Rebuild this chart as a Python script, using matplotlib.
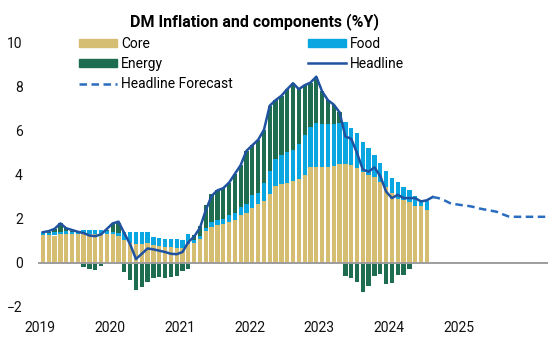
import matplotlib
matplotlib.use("Agg")
import matplotlib.pyplot as plt
from matplotlib.lines import Line2D
from matplotlib.patches import Patch
import numpy as np

plt.rcParams["font.family"] = ["Roboto", "DejaVu Sans"]

# Monthly %Y contributions, Jan 2019 onwards
core = [
    1.27, 1.27, 1.25, 1.30, 1.30, 1.30, 1.30, 1.32, 1.32, 1.30, 1.30, 1.32,
    1.30, 1.22, 1.05, 0.90, 0.88, 0.88, 0.90, 0.83, 0.76, 0.74, 0.72, 0.70,
    0.70, 0.88, 0.92, 1.10, 1.45, 1.65, 1.73, 1.76, 1.88, 1.95, 2.18, 2.26,
    2.48, 2.70, 2.80, 3.15, 3.50, 3.58, 3.62, 3.74, 3.80, 4.00, 4.35, 4.38,
    4.35, 4.38, 4.42, 4.50, 4.52, 4.45, 4.30, 4.15, 4.00, 3.90, 3.70, 3.47,
    3.17, 2.90, 2.86, 2.79, 2.60, 2.58, 2.42,
]
food = [
    0.12, 0.10, 0.15, 0.12, 0.15, 0.12, 0.12, 0.18, 0.20, 0.22, 0.20, 0.15,
    0.12, 0.15, 0.35, 0.50, 0.52, 0.52, 0.50, 0.37, 0.38, 0.36, 0.36, 0.38,
    0.36, 0.42, 0.12, 0.12, 0.15, 0.20, 0.22, 0.25, 0.30, 0.32, 0.38, 0.42,
    0.60, 0.50, 0.83, 1.05, 1.21, 1.32, 1.41, 1.40, 1.61, 1.82, 1.85, 1.97,
    1.95, 1.94, 1.92, 1.85, 1.90, 1.67, 1.60, 1.36, 1.24, 1.01, 0.83, 0.71,
    0.68, 0.80, 0.61, 0.53, 0.43, 0.27, 0.38,
]
energy = [
    0.00, 0.05, 0.15, 0.38, 0.12, 0.03, 0.00, -0.20, -0.27, -0.30, -0.15, 0.05,
    0.38, 0.45, -0.40, -0.77, -1.23, -1.08, -0.85, -0.68, -0.64, -0.68, -0.64, -0.60,
    -0.35, -0.25, 0.23, 0.48, 1.05, 1.27, 1.36, 1.39, 1.47, 1.78, 1.89, 2.42,
    2.27, 2.40, 2.42, 2.95, 2.69, 2.70, 2.87, 3.03, 2.49, 2.26, 2.00, 2.12,
    1.50, 1.08, 0.86, 0.50, -0.60, -0.70, -0.85, -1.30, -1.05, -0.60, -0.50, -0.95,
    -0.90, -0.55, -0.55, -0.25, 0.00, 0.00, 0.00,
]
headline = [
    1.40, 1.45, 1.55, 1.80, 1.58, 1.50, 1.42, 1.36, 1.25, 1.22, 1.30, 1.55,
    1.80, 1.88, 1.35, 0.85, 0.18, 0.42, 0.66, 0.62, 0.56, 0.50, 0.42, 0.40,
    0.50, 0.95, 1.20, 1.60, 2.40, 3.05, 3.30, 3.40, 3.65, 4.05, 4.45, 5.10,
    5.35, 5.60, 6.05, 7.15, 7.40, 7.60, 7.90, 8.17, 7.90, 8.08, 8.20, 8.47,
    7.80, 7.40, 7.20, 6.85, 5.75, 5.65, 5.00, 4.25, 4.15, 4.35, 3.95, 3.25,
    2.95, 3.10, 2.95, 2.95, 2.95, 2.80, 2.85, 3.00,
]
# Forecast path, starting from the last headline print (Aug 2024)
forecast = [
    3.00, 2.95, 2.85, 2.72, 2.67, 2.63, 2.60, 2.55, 2.48, 2.43, 2.38, 2.33,
    2.22, 2.12, 2.10, 2.10, 2.10, 2.10, 2.10, 2.10, 2.10, 2.10,
]
years = [2019, 2020, 2021, 2022, 2023, 2024, 2025]

C_CORE = "#d5bd72"
C_FOOD = "#0aa6e2"
C_ENERGY = "#1f6d50"
C_HEAD = "#1f52a0"
C_FC = "#2a6cbf"

core = np.array(core)
food = np.array(food)
energy = np.array(energy)

# month centres in fractional years
x_bar = 2019 + (np.arange(len(core)) + 0.5) / 12
x_head = 2019 + (np.arange(len(headline)) + 0.5) / 12
x_fc = 2019 + (np.arange(len(forecast)) + len(headline) - 1 + 0.5) / 12

fig = plt.figure(figsize=(5.48, 3.38), dpi=100)
ax = fig.add_axes([38 / 548, 1 - 311.4 / 338, 510 / 548, (311.4 - 38.6) / 338])

w = 0.74 / 12
ax.bar(x_bar, core, width=w, color=C_CORE, linewidth=0, zorder=2)
ax.bar(x_bar, food, width=w, bottom=core, color=C_FOOD, linewidth=0, zorder=2)
e_bottom = np.where(energy > 0, core + food, 0)
ax.bar(x_bar, energy, width=w, bottom=e_bottom, color=C_ENERGY, linewidth=0, zorder=2)

ax.axhline(0, color="#9d9d9d", lw=1.4, zorder=3)
ax.plot(x_head, headline, color=C_HEAD, lw=1.8, zorder=4, solid_joinstyle="round")
ax.plot(x_fc, forecast, color=C_FC, lw=1.8, ls=(0, (3, 1.8)), zorder=4)

ax.set_xlim(2019 - 2 / 69.8, 2019 + 508 / 69.8)
ax.set_ylim(-2.2, 10.2)
ax.set_yticks(range(-2, 11, 2))
ax.set_xticks(years)
ax.set_xticklabels([str(y) for y in years])
ax.tick_params(axis="y", length=0, pad=11, labelsize=10, colors="#111111")
ax.tick_params(axis="x", length=0, pad=7, labelsize=10, colors="#111111")
for s in ax.spines.values():
    s.set_visible(False)

fig.text(255 / 548, 1 - 22 / 338, "DM Inflation and components (%Y)",
         ha="center", va="center", fontsize=11.5, fontweight="bold")

leg_kw = dict(frameon=False, fontsize=10, handlelength=2.75, handleheight=0.5,
              handletextpad=0.3, labelspacing=0.45, borderpad=0, borderaxespad=0,
              loc="upper left", bbox_transform=fig.transFigure)
h1 = [Patch(color=C_CORE), Patch(color=C_ENERGY),
      Line2D([], [], color=C_FC, lw=1.8, ls=(0, (3, 1.8)))]
leg1 = ax.legend(h1, ["Core", "Energy", "Headline Forecast"],
                 bbox_to_anchor=(79 / 548, 1 - 36.5 / 338), **leg_kw)
ax.add_artist(leg1)
h2 = [Patch(color=C_FOOD), Line2D([], [], color=C_HEAD, lw=1.8)]
ax.legend(h2, ["Food", "Headline"], bbox_to_anchor=(308 / 548, 1 - 36.5 / 338), **leg_kw)

fig.savefig("out.png", dpi=100)
